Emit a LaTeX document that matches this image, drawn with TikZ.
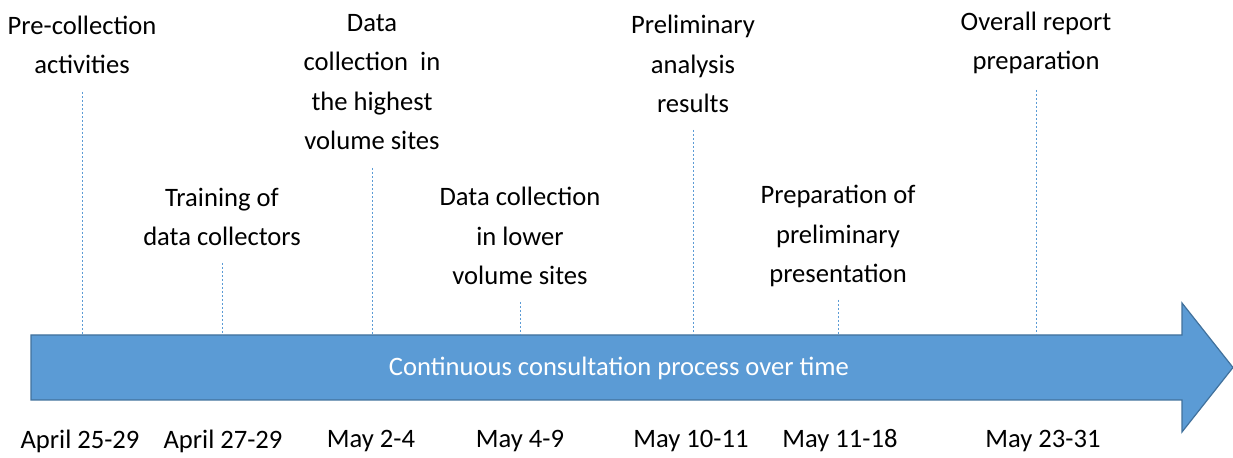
\documentclass[tikz,border=0pt]{standalone}
\usepackage{fontspec}
\setmainfont{Carlito}
\usepackage{tikz}
\usetikzlibrary{positioning, calc}
\definecolor{barfill}{HTML}{5B9BD5}
\definecolor{barline}{HTML}{41719C}
\definecolor{tickline}{HTML}{5B9BD5}

\begin{document}
\begin{tikzpicture}[
    x=0.5pt, y=-0.5pt,
    event/.style={align=center, inner sep=0pt, font=\fontsize{13.3}{19.6}\selectfont, text=black},
    date/.style={inner sep=0pt, font=\fontsize{13.3}{19.6}\selectfont, text=black},
    tick/.style={draw=tickline, dash pattern=on 1.2pt off 0.8pt, line width=0.35pt},
    bar/.style={fill=barfill, draw=barline, line width=0.6pt},
]
    \useasboundingbox (0,0) rectangle (1233,458);
    % the time arrow
    \draw[bar] (31,335) -- (1182,335) -- (1182,303) -- (1233,367.5) -- (1182,432)
        -- (1182,400) -- (31,400) -- cycle;
    \coordinate (bartop) at (31,335);
    \node[event, text=white] (process) at (619,368) {Continuous consultation process over time};

    % events above the arrow
    \node[event] (precoll) at (82,45) {Pre-collection\\activities};
    \node[event] (training) at (222,217) {Training of\\data collectors};
    \node[event] (highvol) at (372,82) {Data\\collection\ \ in\\the highest\\volume sites};
    \node[event] (lowvol) at (520,236) {Data collection\\in lower\\volume sites};
    \node[event] (prelim) at (693,64) {Preliminary\\analysis\\results};
    \node[event] (present) at (838,236) {Preparation of\\preliminary\\presentation};
    \node[event] (report) at (1036,43) {Overall report\\preparation};

    % tops of the dashed markers
    \coordinate (t1) at (82,92);
    \coordinate (t2) at (222,263);
    \coordinate (t3) at (372,168);
    \coordinate (t4) at (520,302);
    \coordinate (t5) at (693,130);
    \coordinate (t6) at (838,300);
    \coordinate (t7) at (1036,90);
    \foreach \t in {t1,t2,t3,t4,t5,t6,t7}
        \draw[tick] (\t) -- (\t |- bartop);

    % dates below the arrow
    \node[date] (d1) at (80,441) {April 25-29};
    \node[date] (d2) at (223,441) {April 27-29};
    \node[date] (d3) at (371,441) {May 2-4};
    \node[date] (d4) at (520,441) {May 4-9};
    \node[date] (d5) at (691,441) {May 10-11};
    \node[date] (d6) at (840,441) {May 11-18};
    \node[date] (d7) at (1043,441) {May 23-31};
\end{tikzpicture}
\end{document}
